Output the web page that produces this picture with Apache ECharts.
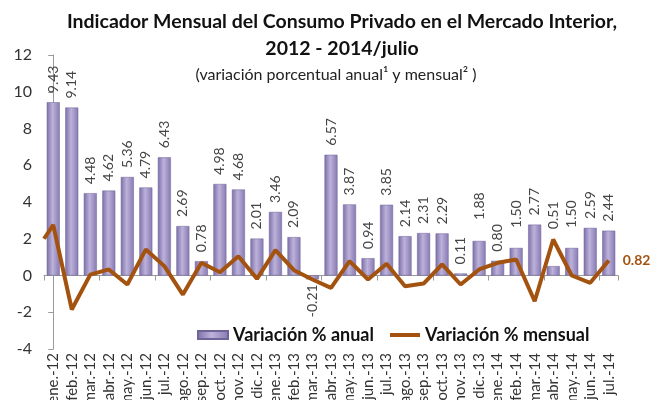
<!DOCTYPE html>
<html>
<head>
<meta charset="utf-8">
<title>Consumo Privado</title>
<script src="https://cdn.jsdelivr.net/npm/echarts@6/dist/echarts.min.js"></script>
<style>
  html, body { margin: 0; padding: 0; background: #fff; }
  #chart { width: 650px; height: 400px; }
</style>
</head>
<body>
<div id="chart"></div>
<script type="text/javascript">
// categorias (meses)
var meses = ['ene.-12','feb.-12','mar.-12','abr.-12','may.-12','jun.-12','jul.-12','ago.-12','sep.-12','oct.-12','nov.-12','dic.-12',
             'ene.-13','feb.-13','mar.-13','abr.-13','may.-13','jun.-13','jul.-13','ago.-13','sep.-13','oct.-13','nov.-13','dic.-13',
             'ene.-14','feb.-14','mar.-14','abr.-14','may.-14','jun.-14','jul.-14'];
// variacion % anual (barras)
var anual = [9.43, 9.14, 4.48, 4.62, 5.36, 4.79, 6.43, 2.69, 0.78, 4.98, 4.68, 2.01,
             3.46, 2.09, -0.21, 6.57, 3.87, 0.94, 3.85, 2.14, 2.31, 2.29, 0.11, 1.88,
             0.80, 1.50, 2.77, 0.51, 1.50, 2.59, 2.44];
// variacion % mensual (linea)
var mensual = [2.75, -1.85, 0.05, 0.33, -0.49, 1.42, 0.51, -1.04, 0.69, 0.18, 1.05, -0.18,
               1.38, 0.29, -0.22, -0.67, 0.78, -0.22, 0.64, -0.58, -0.44, 0.60, -0.49, 0.33,
               0.69, 0.87, -1.40, 1.96, 0.00, -0.40, 0.82];
// la linea arranca en el eje con este valor
var mensualInicio = 2.0;
var yTicks = { min: -4, max: 12, interval: 2 };

// etiquetas que en el original se movieron hacia arriba (px extra)
var etiquetaExtra = { 23: 12, 25: 11, 27: 28, 28: 11 };

var myChart = echarts.init(document.getElementById('chart'));

var lineData = [[-0.5, mensualInicio]];
for (var i = 0; i < mensual.length; i++) {
  lineData.push([i, mensual[i]]);
}

var barData = anual.map(function (v, idx) {
  if (v < 0) {
    return { value: v, label: { position: 'bottom', align: 'right', distance: 5 } };
  }
  if (etiquetaExtra[idx]) {
    return { value: v, label: { distance: 9 + etiquetaExtra[idx] } };
  }
  return v;
});

var fuente = 'Lato, "Open Sans", sans-serif';
var marron = '#a3530f';
var leyendaTexto = { fontFamily: fuente, fontSize: 18, fontWeight: 'bold', color: '#111' };

var option = {
  backgroundColor: '#fff',
  animation: false,
  title: [
    {
      text: 'Indicador Mensual del Consumo Privado en el Mercado Interior,\n2012 - 2014/julio',
      left: 337,
      top: 3,
      textAlign: 'center',
      textStyle: { fontFamily: fuente, fontSize: 19.5, fontWeight: 'bold', color: '#111', lineHeight: 27 }
    },
    {
      text: '(variación porcentual anual¹ y mensual² )',
      left: 331,
      top: 62,
      textAlign: 'center',
      textStyle: { fontFamily: fuente, fontSize: 16, fontWeight: 'normal', color: '#222' }
    }
  ],
  legend: [
    {
      left: 192,
      top: 321,
      itemWidth: 30,
      itemHeight: 8,
      textStyle: leyendaTexto,
      data: [{ name: 'Variación % anual', icon: 'rect' }]
    },
    {
      left: 385,
      top: 321,
      itemWidth: 30,
      itemHeight: 8,
      textStyle: leyendaTexto,
      data: [{ name: 'Variación % mensual', icon: 'path://M0,0 L30,0 L30,4 L0,4 Z', itemStyle: { color: marron } }]
    }
  ],
  grid: { left: 44, right: 32, top: 55, bottom: 51, outerBoundsMode: 'none' },
  xAxis: [
    {
      type: 'category',
      data: meses,
      boundaryGap: true,
      axisLine: { onZero: true, lineStyle: { color: '#9a9a9a' } },
      axisTick: { show: true, length: 5, lineStyle: { color: '#9a9a9a' } },
      axisLabel: { show: false },
      splitLine: { show: false }
    },
    {
      type: 'category',
      data: meses,
      position: 'bottom',
      axisLine: { show: false, onZero: false },
      axisTick: { show: false },
      axisLabel: { interval: 0, rotate: 90, margin: 4, fontFamily: fuente, fontSize: 15, color: '#333' }
    },
    {
      type: 'value',
      min: -0.5,
      max: meses.length - 0.5,
      show: false
    }
  ],
  yAxis: {
    type: 'value',
    min: yTicks.min,
    max: yTicks.max,
    interval: yTicks.interval,
    axisLine: { show: true, lineStyle: { color: '#9a9a9a' } },
    axisTick: { show: true, length: 5, lineStyle: { color: '#9a9a9a' } },
    axisLabel: { margin: 12, fontFamily: fuente, fontSize: 16, color: '#333' },
    splitLine: { show: false }
  },
  series: [
    {
      name: 'Variación % anual',
      type: 'bar',
      xAxisIndex: 0,
      barWidth: 13,
      data: barData,
      itemStyle: {
        color: new echarts.graphic.LinearGradient(0, 0, 1, 0, [
          { offset: 0, color: '#7c6fa8' },
          { offset: 0.45, color: '#bcb2da' },
          { offset: 1, color: '#8679b2' }
        ]),
        borderColor: '#6f6398',
        borderWidth: 0.5
      },
      label: {
        show: true,
        position: 'top',
        rotate: 90,
        align: 'left',
        verticalAlign: 'middle',
        distance: 9,
        fontFamily: fuente,
        fontSize: 14,
        color: '#444',
        formatter: function (p) { return p.value.toFixed(2); }
      }
    },
    {
      name: 'Variación % mensual',
      type: 'line',
      xAxisIndex: 2,
      data: lineData,
      symbol: 'none',
      showSymbol: false,
      color: marron,
      lineStyle: { color: marron, width: 4 },
      z: 5,
      endLabel: {
        show: true,
        distance: 14,
        fontFamily: fuente,
        fontSize: 14,
        fontWeight: 'bold',
        color: marron,
        formatter: function (p) { return p.value[1].toFixed(2); }
      }
    }
  ]
};

myChart.setOption(option);
</script>
</body>
</html>
